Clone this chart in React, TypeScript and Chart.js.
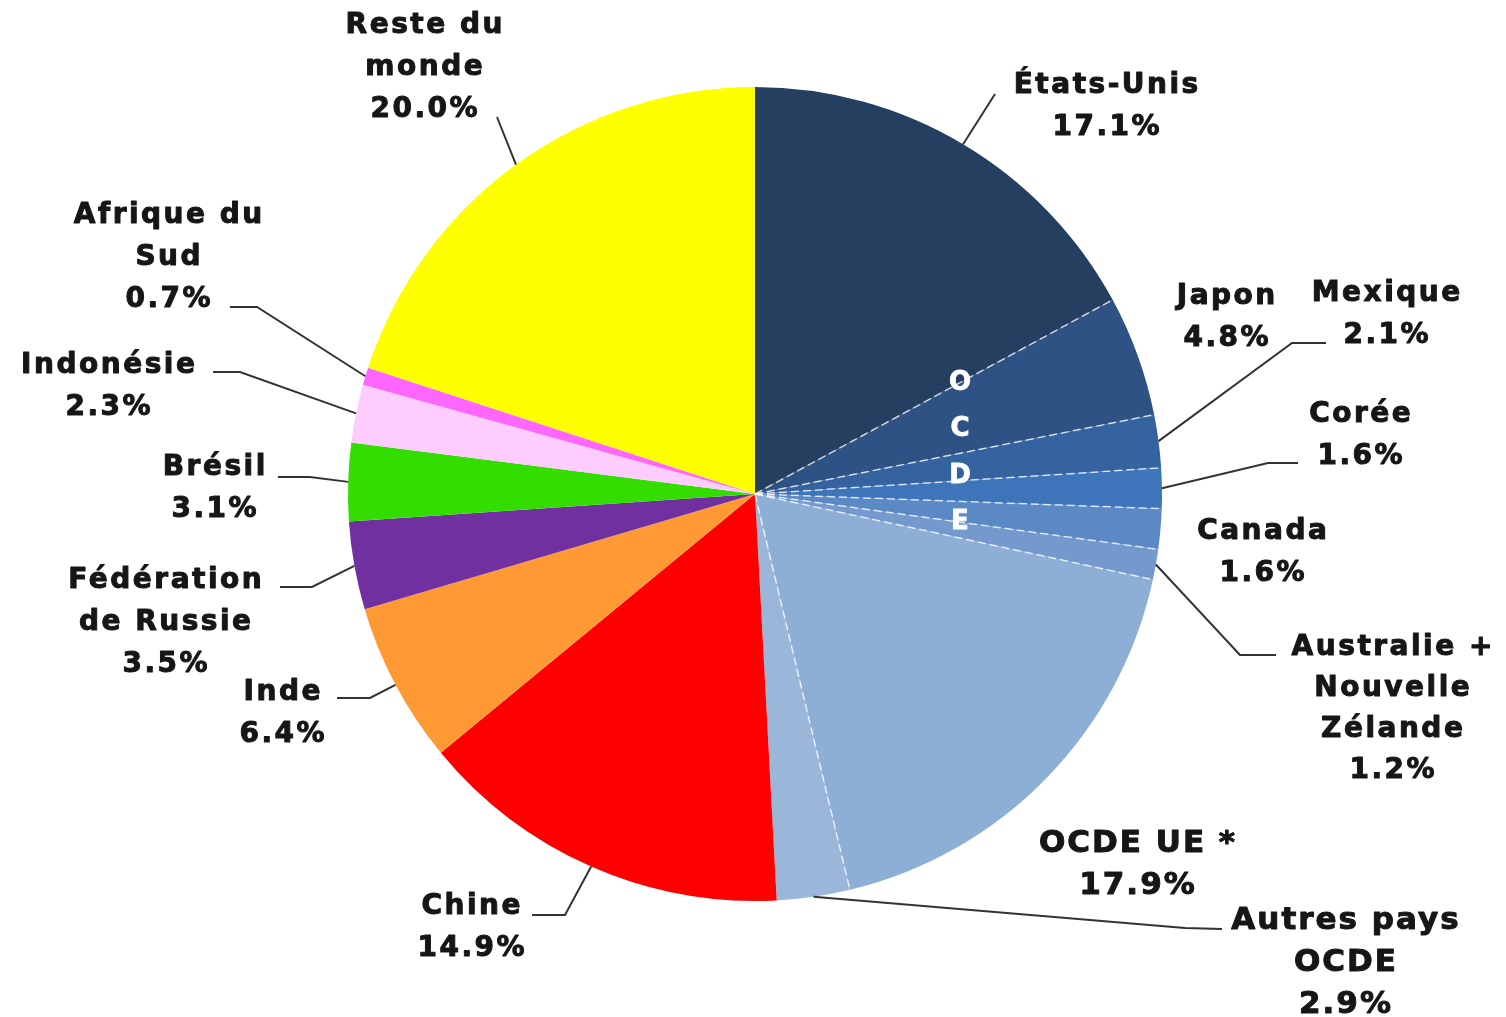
import React, { useEffect, useRef } from 'react';
import { Chart, registerables } from 'chart.js';

Chart.register(...registerables);

// ---------- data ----------
const categories = [
  'États-Unis', 'Japon', 'Mexique', 'Corée', 'Canada',
  'Australie + Nouvelle Zélande', 'OCDE UE *', 'Autres pays OCDE',
  'Chine', 'Inde', 'Fédération de Russie', 'Brésil', 'Indonésie',
  'Afrique du Sud', 'Reste du monde',
];
const shares = [17.1, 4.8, 2.1, 1.6, 1.6, 1.2, 17.9, 2.9, 14.9, 6.4, 3.5, 3.1, 2.3, 0.7, 20.0];
const labelLines = [
  ['États-Unis'], ['Japon'], ['Mexique'], ['Corée'], ['Canada'],
  ['Australie +', 'Nouvelle', 'Zélande'], ['OCDE UE *'], ['Autres pays', 'OCDE'],
  ['Chine'], ['Inde'], ['Fédération', 'de Russie'], ['Brésil'], ['Indonésie'],
  ['Afrique du', 'Sud'], ['Reste du', 'monde'],
];
const oecdCount = 8;
const oecdLetters = ['O', 'C', 'D', 'E'];

// ---------- styles ----------
const colors = [
  '#243F60', '#2E5283', '#3563A0', '#3E74BA', '#5A89C5', '#7399CD', '#8DAED5', '#9AB7DA',
  '#FF0000', '#FF9933', '#7030A0', '#33DD00', '#FFCCFF', '#FF66FF', '#FFFF00',
];

// ---------- label layout (annotation positions) ----------
type Layout = { x: number; y: number; path: [number, number][]; big?: boolean; lh?: number };
const labelLayout: Layout[] = [
  { x: 1106, y: 93, path: [[995, 94]] },
  { x: 1226, y: 304, path: [] },
  { x: 1386, y: 301, path: [[1292, 343], [1326, 343]] },
  { x: 1360, y: 422, path: [[1268, 463], [1298, 463]] },
  { x: 1262, y: 539, path: [] },
  { x: 1392, y: 655, path: [[1240, 655], [1276, 655]], lh: 41 },
  { x: 1137, y: 852, path: [], big: true },
  { x: 1345, y: 929, path: [[1185, 928], [1222, 929]], big: true },
  { x: 471, y: 914, path: [[565, 915], [532, 915]] },
  { x: 282, y: 700, path: [[370, 698], [337, 698]] },
  { x: 165, y: 588, path: [[312, 587], [280, 587]] },
  { x: 214, y: 475, path: [[310, 477], [278, 477]] },
  { x: 108, y: 373, path: [[240, 372], [213, 372]] },
  { x: 168, y: 223, path: [[257, 307], [230, 307]] },
  { x: 424, y: 33, path: [[497, 117]] },
];
const oecdTextOffset = { dx: 205, dy: -111, step: 46.5 };

const MAIN_FONT = 'bold 28px "DejaVu Sans", Verdana, sans-serif';
const BIG_FONT = 'bold 31px "DejaVu Sans", Verdana, sans-serif';
const OECD_FONT = 'bold 26px "DejaVu Sans", Verdana, sans-serif';

const labelsPlugin = {
  id: 'outerLabels',
  afterDatasetsDraw(chart: any) {
    const ctx: CanvasRenderingContext2D = chart.ctx;
    const meta = chart.getDatasetMeta(0);
    const arcs = meta.data;
    if (!arcs.length) return;
    const cx = arcs[0].x;
    const cy = arcs[0].y;

    // dashed white separators inside the OECD group
    ctx.save();
    ctx.strokeStyle = 'rgba(255,255,255,0.75)';
    ctx.lineWidth = 1.5;
    ctx.setLineDash([8, 4]);
    for (let i = 0; i < oecdCount - 1; i++) {
      const a = arcs[i];
      const ang = a.endAngle;
      ctx.beginPath();
      ctx.moveTo(cx, cy);
      ctx.lineTo(cx + Math.cos(ang) * a.outerRadius, cy + Math.sin(ang) * a.outerRadius);
      ctx.stroke();
    }
    ctx.restore();

    // OCDE vertical letters
    ctx.save();
    ctx.fillStyle = '#ffffff';
    ctx.strokeStyle = '#ffffff';
    ctx.lineWidth = 0.8;
    ctx.font = OECD_FONT;
    ctx.textAlign = 'center';
    ctx.textBaseline = 'middle';
    oecdLetters.forEach((l, k) => {
      const y = cy + oecdTextOffset.dy + k * oecdTextOffset.step;
      ctx.fillText(l, cx + oecdTextOffset.dx, y);
      ctx.strokeText(l, cx + oecdTextOffset.dx, y);
    });
    ctx.restore();

    // leader lines and labels
    arcs.forEach((a: any, i: number) => {
      const lay = labelLayout[i];
      const mid = (a.startAngle + a.endAngle) / 2;
      const sx = cx + Math.cos(mid) * a.outerRadius;
      const sy = cy + Math.sin(mid) * a.outerRadius;
      if (lay.path.length) {
        ctx.save();
        ctx.strokeStyle = '#333333';
        ctx.lineWidth = 2;
        ctx.beginPath();
        ctx.moveTo(sx, sy);
        lay.path.forEach(([px, py]) => ctx.lineTo(px, py));
        ctx.stroke();
        ctx.restore();
      }
      const lines = [...labelLines[i], `${shares[i].toFixed(1)}%`];
      const lh = lay.lh ?? 42;
      ctx.save();
      ctx.fillStyle = '#161616';
      ctx.strokeStyle = '#161616';
      ctx.lineWidth = 1;
      ctx.lineJoin = 'round';
      ctx.textAlign = 'center';
      ctx.textBaseline = 'alphabetic';
      const sp = lay.big ? 2 : 2.5;
      ctx.font = lay.big ? BIG_FONT : MAIN_FONT;
      (ctx as any).letterSpacing = `${sp}px`;
      lines.forEach((t, k) => {
        const x = lay.x + sp / 2;
        const y = lay.y + k * lh;
        ctx.fillText(t, x, y);
        ctx.strokeText(t, x, y);
      });
      ctx.restore();
    });
  },
};

export default function App() {
  const ref = useRef<HTMLCanvasElement>(null);
  useEffect(() => {
    document.body.style.margin = '0';
    const canvas = ref.current!;
    const chart = new Chart(canvas, {
      type: 'pie',
      data: {
        labels: categories,
        datasets: [{
          data: shares,
          backgroundColor: colors,
          borderWidth: 0,
        }],
      },
      options: {
        responsive: false,
        animation: false,
        layout: { padding: { left: 348, right: 344, top: 87, bottom: 116 } },
        plugins: { legend: { display: false }, tooltip: { enabled: false } },
      },
      plugins: [labelsPlugin],
    });
    return () => chart.destroy();
  }, []);
  return (
    <div style={{ width: 1506, height: 1017, background: '#fff' }}>
      <canvas ref={ref} width={1506} height={1017} style={{ display: 'block' }} />
    </div>
  );
}
